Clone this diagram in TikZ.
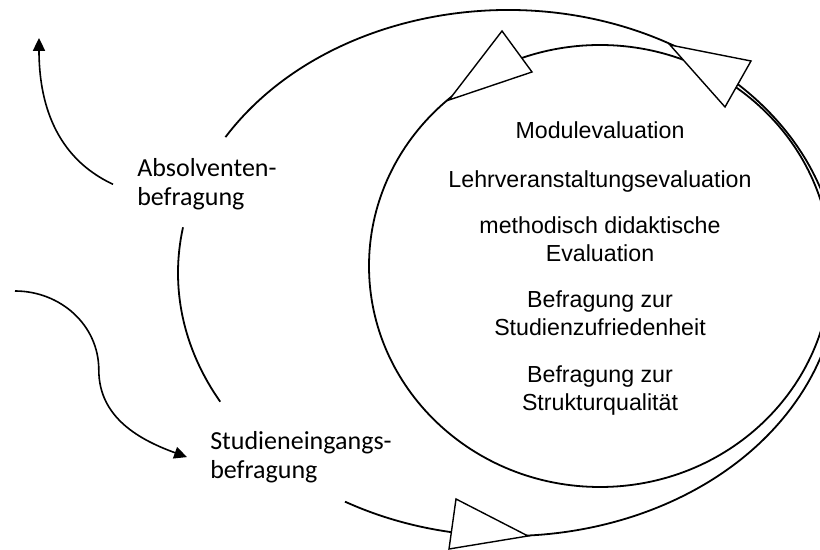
\documentclass[tikz,border=0pt]{standalone}
\usepackage{fontspec}
\usetikzlibrary{calc,arrows.meta}
\newfontfamily\stagefont{Carlito}
\newfontfamily\itemfont{Liberation Sans}
\def\centerarc[#1](#2)(#3:#4:#5:#6){\draw[#1] ($(#2)+({#5*cos(#3)},{#6*sin(#3)})$) arc[start angle=#3, end angle=#4, x radius=#5, y radius=#6];}

\begin{document}
\begin{tikzpicture}[
	ring/.style={line width=0.45mm},
	arrowhd/.style={line width=0.35mm, fill=white},
	flow/.style={line width=0.4mm, -{Triangle[length=3.2mm,width=3mm]}},
	stage/.style={font=\stagefont\fontsize{18.5}{21}\selectfont, align=left, inner sep=0pt},
	item/.style={font=\itemfont\fontsize{16.5}{20}\selectfont, align=center, inner sep=0pt}]
		%%%%% START %%%%%
		
		\useasboundingbox (0, 0) rectangle (20.5, 13.75);
		\clip (0, 0) rectangle (20.5, 13.75);
		
		% outer cycle
		\centerarc[ring](12.7, 6.925)(240.4:508.9:8.25:6.575);
		\centerarc[ring](12.7, 6.925)(170:209.3:8.25:6.575);
		
		% inner cycle
		\draw[ring] (15, 7.1) ellipse (5.775 and 5.525);
		
		% open heads on the cycles
		\draw[arrowhd] (12.55, 12.975) -- (13.3, 11.95) -- (11.225, 11.25) -- cycle;
		\draw[arrowhd] (16.75, 12.625) -- (18.775, 12.225) -- (18.125, 11.075) -- cycle;
		\draw[arrowhd] (11.4, 1.275) -- (13.2, 0.35) -- (11.225, 0.025) -- cycle;
		
		\node[stage, anchor=north west] (abs) at (3.425, 9.8) {Absolventen-\\befragung};
		\node[stage, anchor=north west] (stud) at (5.25, 2.98) {Studieneingangs-\\befragung};
		
		\node[item, anchor=north] (mod) at (15, 10.72) {Modulevaluation};
		\node[item, anchor=north] (lv) at (15, 9.49) {Lehrveranstaltungsevaluation};
		\node[item, anchor=north] (mdd) at (15, 8.34) {methodisch didaktische\\Evaluation};
		\node[item, anchor=north] (sz) at (15, 6.49) {Befragung zur\\Studienzufriedenheit};
		\node[item, anchor=north] (sq) at (15, 4.62) {Befragung zur\\Strukturqualität};
		
		% ways in and out
		\coordinate (exit) at (0.975, 12.8);
		\coordinate (entry) at (0.375, 6.475);
		\draw[flow] ([xshift=-0.6cm]abs.west) to[out=155, in=-90] (exit);
		\draw[flow] (entry) to[out=0, in=90] (2.47, 4.5) to[out=-90, in=160] ([xshift=-0.575cm]stud.west);
		
		%%%%% END %%%%%
	\end{tikzpicture}
\end{document}
